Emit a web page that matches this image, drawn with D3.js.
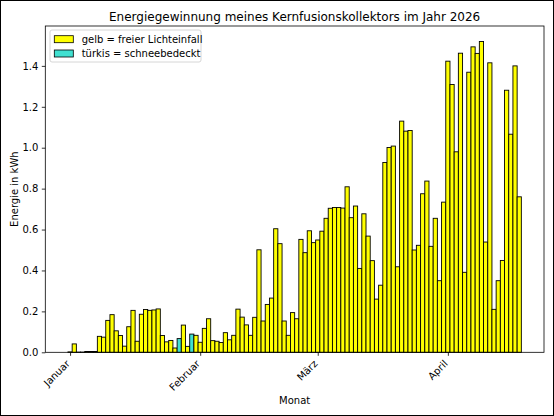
<!DOCTYPE html>
<html>
<head>
<meta charset="utf-8">
<script src="https://cdn.jsdelivr.net/npm/d3@7"></script>
<style>
  body { margin: 0; background: #fff; }
  text { font-family: "DejaVu Sans", sans-serif; fill: #000; }
</style>
</head>
<body>
<svg id="chart" width="554" height="416"></svg>
<script>
// one value per day, starting at startDay
const startDay = "2026-01-01";
const energy = [
  0.002, 0.041, 0.001, 0.001, 0.004, 0.004, 0.004, 0.078, 0.074, 0.156,
  0.184, 0.105, 0.082, 0.030, 0.125, 0.205, 0.054, 0.186, 0.209, 0.205,
  0.207, 0.212, 0.082, 0.051, 0.058, 0.021, 0.067, 0.133, 0.029, 0.089,
  0.083, 0.049, 0.117, 0.164, 0.057, 0.054, 0.048, 0.096, 0.061, 0.083,
  0.211, 0.172, 0.134, 0.083, 0.171, 0.501, 0.153, 0.234, 0.265, 0.604,
  0.531, 0.153, 0.083, 0.194, 0.164, 0.552, 0.487, 0.594, 0.536, 0.549,
  0.592, 0.655, 0.704, 0.708, 0.708, 0.705, 0.809, 0.658, 0.715, 0.410,
  0.677, 0.568, 0.448, 0.260, 0.328, 0.928, 1.001, 1.008, 0.418, 1.130,
  1.081, 1.084, 0.500, 0.523, 0.775, 0.837, 0.518, 0.655, 0.350, 0.734,
  1.423, 1.309, 0.980, 1.462, 0.391, 1.369, 1.493, 1.461, 1.519, 0.539,
  1.415, 0.210, 0.350, 0.449, 1.281, 1.066, 1.400, 0.760
];
const snowDays = ["2026-01-27", "2026-01-30"];
const monthTicks = ["2026-01-01", "2026-02-01", "2026-03-01", "2026-04-01"];
const monthLabels = ["Januar", "Februar", "März", "April"];
const legendLabels = ["gelb = freier Lichteinfall", "türkis = schneebedeckt"];

const colSun = "#ffff00", colSnow = "#40e0d0";

const parse = d3.utcParse("%Y-%m-%d");
const t0 = parse(startDay);
const snowSet = new Set(snowDays.map(s => +parse(s)));
const data = energy.map((v, i) => {
  const date = d3.utcDay.offset(t0, i);
  return { date: date, value: v, snow: snowSet.has(+date) };
});

const svg = d3.select("#chart");
const mLeft = 45.3, mRight = 544, mTop = 26, mBottom = 352.3;

// bars are one day wide, centred on the date; 5% margin like matplotlib
const lo = d3.utcHour.offset(data[0].date, -12);
const hi = d3.utcHour.offset(data[data.length - 1].date, 12);
const pad = (hi - lo) * 0.05;
const x = d3.scaleUtc()
  .domain([new Date(+lo - pad), new Date(+hi + pad)])
  .range([mLeft, mRight]);

const y = d3.scaleLinear()
  .domain([0, d3.max(energy) * 1.05])
  .range([mBottom, mTop]);

svg.append("rect")
  .attr("x", 0.5).attr("y", 0.5).attr("width", 553).attr("height", 415)
  .attr("fill", "#fff").attr("stroke", "#000");

svg.append("g")
  .selectAll("rect")
  .data(data)
  .join("rect")
    .attr("x", d => x(d3.utcHour.offset(d.date, -12)))
    .attr("width", d => x(d3.utcHour.offset(d.date, 12)) - x(d3.utcHour.offset(d.date, -12)))
    .attr("y", d => y(d.value))
    .attr("height", d => y(0) - y(d.value))
    .attr("fill", d => d.snow ? colSnow : colSun)
    .attr("stroke", "#000")
    .attr("stroke-width", 0.9);

// axes
const yAxis = svg.append("g")
  .attr("transform", `translate(${mLeft},0)`)
  .call(d3.axisLeft(y).ticks(8).tickFormat(d3.format(".1f")).tickSize(3.5).tickSizeOuter(0).tickPadding(3.5));
yAxis.select(".domain").remove();
yAxis.selectAll("text").style("font-size", "10px").style("font-family", "DejaVu Sans");

const xAxis = svg.append("g")
  .attr("transform", `translate(0,${mBottom})`)
  .call(d3.axisBottom(x).tickValues(monthTicks.map(parse)).tickFormat((d, i) => monthLabels[i])
    .tickSize(3.5).tickSizeOuter(0));
xAxis.select(".domain").remove();
// rotated labels, right end sitting just under the tick
xAxis.selectAll("text")
  .style("font-size", "10px").style("font-family", "DejaVu Sans")
  .attr("text-anchor", "end")
  .attr("y", 0)
  .attr("dy", 0)
  .attr("transform", "translate(0,12) rotate(-45)");

svg.selectAll(".tick line").attr("stroke", "#000").attr("stroke-width", 0.8);

// frame
svg.append("rect")
  .attr("x", mLeft).attr("y", mTop).attr("width", mRight - mLeft).attr("height", mBottom - mTop)
  .attr("fill", "none").attr("stroke", "#000").attr("stroke-width", 0.8);

// labels
svg.append("text")
  .attr("x", (mLeft + mRight) / 2).attr("y", 21)
  .attr("text-anchor", "middle").style("font-size", "12px")
  .text("Energiegewinnung meines Kernfusionskollektors im Jahr 2026");

svg.append("text")
  .attr("x", (mLeft + mRight) / 2).attr("y", 404)
  .attr("text-anchor", "middle").style("font-size", "10px")
  .text("Monat");

svg.append("text")
  .attr("transform", `translate(18,${(mTop + mBottom) / 2}) rotate(-90)`)
  .attr("text-anchor", "middle").style("font-size", "10px")
  .text("Energie in kWh");

// legend
const lg = svg.append("g");
lg.append("rect")
  .attr("x", 50).attr("y", 30).attr("width", 151).attr("height", 32).attr("rx", 2)
  .attr("fill", "#fff").attr("fill-opacity", 0.8).attr("stroke", "#ccc").attr("stroke-width", 0.8);
[colSun, colSnow].forEach((c, i) => {
  lg.append("rect")
    .attr("x", 54.3).attr("y", 35.7 + i * 14.3).attr("width", 19).attr("height", 7)
    .attr("fill", c).attr("stroke", "#000").attr("stroke-width", 0.8);
  lg.append("text")
    .attr("x", 81.7).attr("y", 39.2 + i * 14.3).attr("dy", "0.35em")
    .style("font-size", "10px")
    .text(legendLabels[i]);
});
</script>
</body>
</html>
